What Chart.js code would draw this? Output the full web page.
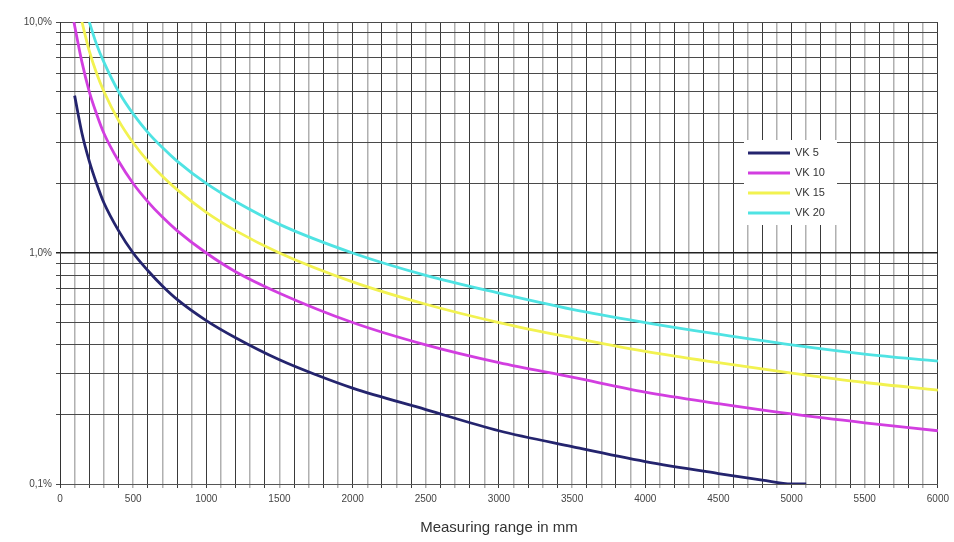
<!DOCTYPE html>
<html>
<head>
<meta charset="utf-8">
<title>Measuring range</title>
<script src="https://cdn.jsdelivr.net/npm/chart.js@4/dist/chart.umd.min.js"></script>
<style>
    html, body { margin: 0; padding: 0; background: #fff; }
    #wrap { width: 954px; height: 542px; }
</style>
</head>
<body>
<div id="wrap"><canvas id="rangeChart" width="954" height="542"></canvas></div>
<script>
// Series data (x in mm, y in %)
const vk5X = [100, 150, 200, 250, 300, 400, 500, 600, 700, 800, 1000, 1200, 1500, 1750, 2000, 2500, 3000, 3500, 4000, 4500, 4800, 5000, 5100];
const vk5Y = [4.8, 3.3, 2.5, 2.0, 1.65, 1.25, 1.0, 0.84, 0.72, 0.63, 0.51, 0.43, 0.345, 0.297, 0.26, 0.21, 0.17, 0.145, 0.125, 0.111, 0.104, 0.1, 0.1];

const vk10X = [95, 150, 200, 250, 300, 400, 500, 600, 700, 800, 1000, 1200, 1500, 2000, 2500, 3000, 3500, 4000, 4500, 5000, 5500, 6000];
const vk10Y = [10, 6.7, 5.0, 4.0, 3.3, 2.5, 2.0, 1.67, 1.43, 1.25, 1.0, 0.83, 0.67, 0.5, 0.4, 0.335, 0.29, 0.25, 0.223, 0.201, 0.184, 0.17];

const vk15X = [150, 200, 250, 300, 400, 500, 600, 700, 800, 1000, 1200, 1500, 2000, 2500, 3000, 3500, 4000, 4500, 5000, 5500, 6000];
const vk15Y = [10, 7.5, 6.0, 5.0, 3.75, 3.0, 2.5, 2.15, 1.88, 1.5, 1.25, 1.0, 0.75, 0.6, 0.5, 0.43, 0.375, 0.335, 0.302, 0.275, 0.255];

const vk20X = [200, 250, 300, 400, 500, 600, 700, 800, 1000, 1200, 1500, 2000, 2500, 3000, 3500, 4000, 4500, 5000, 5500, 6000];
const vk20Y = [10, 8.0, 6.7, 5.0, 4.0, 3.33, 2.86, 2.5, 2.0, 1.67, 1.33, 1.0, 0.8, 0.67, 0.57, 0.5, 0.445, 0.4, 0.365, 0.34];

const seriesNames = ['VK 5', 'VK 10', 'VK 15', 'VK 20'];
const seriesColors = ['#24246e', '#d23ee0', '#f2f250', '#4fe3e3'];

// Axis ticks
const yTickValues = [0.1, 0.2, 0.3, 0.4, 0.5, 0.6, 0.7, 0.8, 0.9, 1, 2, 3, 4, 5, 6, 7, 8, 9, 10];
const yMajorTicks = [0.1, 1, 10];
const yMajorLabels = ['0,1%', '1,0%', '10,0%'];
const xLabelTicks = [0, 500, 1000, 1500, 2000, 2500, 3000, 3500, 4000, 4500, 5000, 5500, 6000];

function toPoints(xs, ys) {
    return xs.map((x, i) => ({ x: x, y: ys[i] }));
}

// Legend box drawn inside the plot
const boxLegend = {
    id: 'boxLegend',
    afterDatasetsDraw(chart) {
        const ctx = chart.ctx;
        ctx.save();
        ctx.fillStyle = '#ffffff';
        ctx.fillRect(744, 140, 93, 85);
        ctx.font = '11px "Liberation Sans", Arial, sans-serif';
        ctx.textBaseline = 'middle';
        chart.data.datasets.forEach((ds, i) => {
            const y = 153 + i * 20;
            ctx.strokeStyle = ds.borderColor;
            ctx.lineWidth = 3;
            ctx.beginPath();
            ctx.moveTo(748, y);
            ctx.lineTo(790, y);
            ctx.stroke();
            ctx.fillStyle = '#333';
            ctx.fillText(ds.label, 795, y);
        });
        ctx.restore();
    }
};

const datasets = [
    toPoints(vk5X, vk5Y),
    toPoints(vk10X, vk10Y),
    toPoints(vk15X, vk15Y),
    toPoints(vk20X, vk20Y)
].map((pts, i) => ({
    label: seriesNames[i],
    data: pts,
    borderColor: seriesColors[i],
    borderWidth: 2.8,
    pointRadius: 0,
    cubicInterpolationMode: 'monotone',
    fill: false
}));

Chart.defaults.font.family = '"Liberation Sans", Arial, sans-serif';

new Chart(document.getElementById('rangeChart'), {
    type: 'line',
    data: { datasets: datasets },
    options: {
        responsive: false,
        animation: false,
        layout: { padding: { top: 22, right: 16, left: 0, bottom: 0 } },
        plugins: {
            legend: { display: false },
            tooltip: { enabled: false }
        },
        scales: {
            x: {
                type: 'linear',
                min: 0,
                max: 6000,
                afterFit: scale => { scale.height = 58; },
                grid: {
                    color: c => (c.tick && c.tick.value % 200 === 0) ? '#3a3a3a' : '#b0b0b0',
                    lineWidth: c => (c.tick && c.tick.value % 200 === 0) ? 1 : 1.5,
                    tickLength: 4
                },
                border: { color: '#555' },
                ticks: {
                    stepSize: 100,
                    autoSkip: false,
                    maxRotation: 0,
                    padding: 5,
                    color: '#444',
                    font: { size: 10 },
                    callback: v => xLabelTicks.includes(v) ? String(v) : ''
                },
                title: {
                    display: true,
                    text: 'Measuring range in mm',
                    color: '#333',
                    font: { size: 15 },
                    padding: { top: 0, bottom: 5 }
                }
            },
            y: {
                type: 'logarithmic',
                min: 0.1,
                max: 10,
                afterFit: scale => { scale.width = 60; },
                afterBuildTicks: scale => {
                    scale.ticks = yTickValues.map(v => ({ value: v, major: yMajorTicks.includes(v) }));
                },
                grid: {
                    color: c => (c.tick && c.tick.value === 1) ? '#222' : '#4a4a4a',
                    lineWidth: c => (c.tick && c.tick.value === 1) ? 1.5 : 1,
                    tickLength: 4
                },
                border: { color: '#333' },
                ticks: {
                    autoSkip: false,
                    padding: 4,
                    color: '#444',
                    font: { size: 10 },
                    callback: v => {
                        const k = yMajorTicks.indexOf(Number(v));
                        return k >= 0 ? yMajorLabels[k] : '';
                    }
                }
            }
        }
    },
    plugins: [boxLegend]
});
</script>
</body>
</html>
